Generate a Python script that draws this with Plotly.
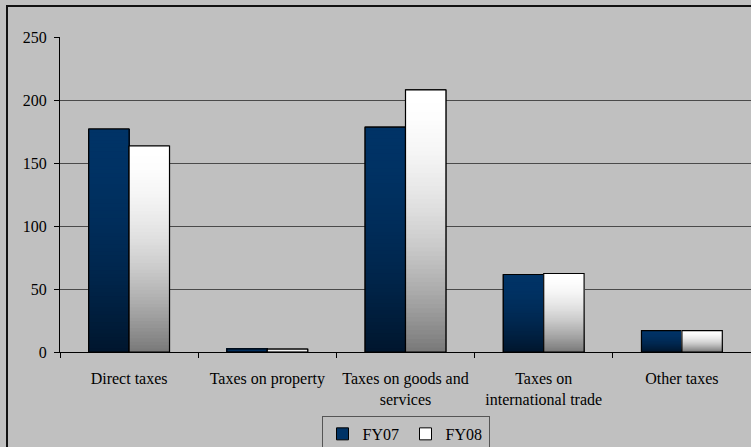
import plotly.graph_objects as go

# Tax revenue by category, two fiscal years
categories = [
    "Direct taxes",
    "Taxes on property",
    "Taxes on goods and<br>services",
    "Taxes on<br>international trade",
    "Other taxes",
]
fy07 = [177.0, 2.5, 178.5, 61.5, 17.0]
fy08 = [163.5, 2.3, 208.0, 62.3, 17.0]

y_ticks = [0, 50, 100, 150, 200, 250]

FONT = "Liberation Serif, Times New Roman, serif"
BG = "#c0c0c0"
N_STEPS = 60  # vertical slices used to paint the gradient inside each bar


def blend(c_top, c_bottom, t):
    """Colour at fraction t (0 = top, 1 = bottom) of the bar height."""
    k = t ** 1.8
    return "rgb({},{},{})".format(
        *[round(a + (b - a) * k) for a, b in zip(c_top, c_bottom)]
    )


series = [
    ("FY07", fy07, (0, 51, 102), (0, 22, 45)),
    ("FY08", fy08, (255, 255, 255), (120, 120, 120)),
]

fig = go.Figure()

for name, vals, top, bottom in series:
    # solid bar carrying the legend entry
    fig.add_trace(go.Bar(
        x=categories, y=vals, name=name, offsetgroup=name,
        marker=dict(color="rgb({},{},{})".format(*top),
                    line=dict(color="black", width=1)),
        hoverinfo="skip",
    ))
    # gradient slices: each one runs from its start up to the bar top,
    # so later (higher) slices overlap the earlier ones without seams
    for i in range(N_STEPS):
        t = 1 - (i + 0.5) / N_STEPS
        fig.add_trace(go.Bar(
            x=categories,
            y=[v * (N_STEPS - i) / N_STEPS for v in vals],
            base=[v * i / N_STEPS for v in vals],
            offsetgroup=name, showlegend=False, hoverinfo="skip",
            marker=dict(color=blend(top, bottom, t), line=dict(width=0)),
        ))
    # crisp outline on top
    fig.add_trace(go.Bar(
        x=categories, y=vals, offsetgroup=name, showlegend=False,
        name=name,
        marker=dict(color="rgba(0,0,0,0)", line=dict(color="black", width=1.2)),
    ))

fig.update_layout(
    width=751, height=447,
    margin=dict(l=60, r=0, t=37, b=95, autoexpand=False),
    paper_bgcolor=BG, plot_bgcolor=BG,
    barmode="group", bargap=0.415, bargroupgap=0,
    font=dict(family=FONT, size=16, color="black"),
    showlegend=True,
    legend=dict(
        orientation="h", x=0.5, xanchor="center", y=-0.203, yanchor="top",
        bgcolor=BG, bordercolor="#555555", borderwidth=1,
        font=dict(family=FONT, size=16, color="black"),
        itemwidth=30, entrywidth=38, entrywidthmode="pixels",
        traceorder="normal",
    ),
    xaxis=dict(
        type="category", showgrid=False,
        showline=True, linecolor="black", linewidth=1,
        ticks="outside", tickson="boundaries", ticklen=5, tickcolor="black",
        ticklabelstandoff=12,
        tickfont=dict(family=FONT, size=16, color="black"),
    ),
    yaxis=dict(
        range=[0, 250], tickvals=y_ticks,
        showgrid=True, gridcolor="#4a4a4a", gridwidth=1,
        zeroline=False,
        showline=True, linecolor="black", linewidth=1,
        ticks="outside", ticklen=5, tickcolor="black",
        ticklabelstandoff=4,
        tickfont=dict(family=FONT, size=16, color="black"),
    ),
    shapes=[dict(
        type="rect", xref="paper", yref="paper",
        x0=-0.0767, x1=1.05, y0=-0.5, y1=1.0985,
        line=dict(color="#111111", width=2), fillcolor="rgba(0,0,0,0)",
        layer="below",
    )],
)

fig.write_html("out.html")
